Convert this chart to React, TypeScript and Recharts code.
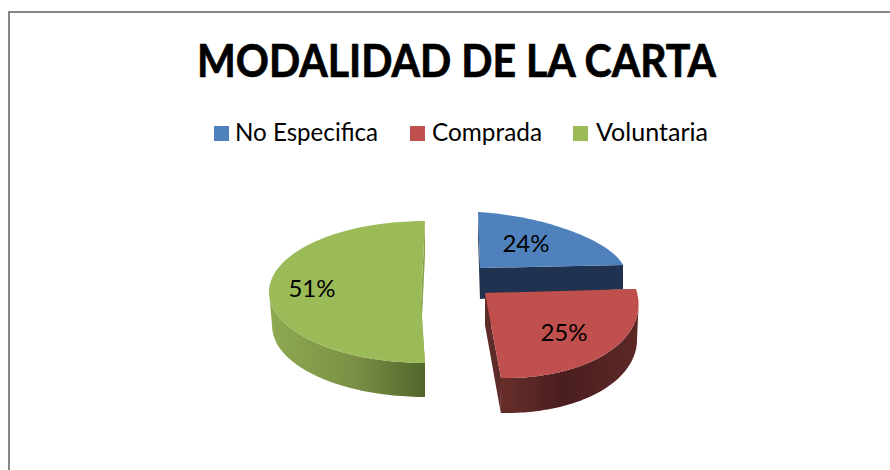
import { PieChart, Pie, Legend } from "recharts"

const names = ["No Especifica", "Comprada", "Voluntaria"]
const values = [24, 25, 51]
const topColors = ["#4f81bd", "#c0504d", "#9bbb59"]
const edgeColors = ["#1f3350", "#5e2b29", "#86a24b"]
const wallFills = ["#1f3350", "url(#redWall)", "url(#greenWall)"]

// how each exploded slice lands on the tilted plane
const sliceViews = [
  { apex: [480, 268], center: [480, 268], right: [143, -3], up: [-2, -56], flat: 0.1, depth: 31, rimDepth: 24, shrink: 1, label: [526, 242] },
  { apex: [485, 293], center: [485, 293], right: [151, -4], up: [-16, -85], flat: -0.04, depth: 32, rimDepth: 35, shrink: 0.99, label: [564, 331] },
  { apex: [421, 303], center: [425, 292], right: [156, 0], up: [0, -71], flat: 0, depth: 34, rimDepth: 34, shrink: 0.98, label: [312, 287] },
]

const tableData = names.map((name, i) => ({ name, value: values[i], fill: topColors[i] }))

type Pt = number[]
const toPath = (pts: Pt[]) =>
  pts.map((p, i) => `${i ? "L" : "M"}${p[0].toFixed(1)} ${p[1].toFixed(1)}`).join(" ") + " Z"

function SliceShape(props: any) {
  const index = names.indexOf(props.name ?? props.payload?.name)
  const view = sliceViews[index]
  // recharts angles run counter clockwise from 3 o'clock, the plane runs clockwise from 12
  const from = (Math.round((90 - props.startAngle) / 90) * 90 * Math.PI) / 180
  const to = (Math.round((90 - props.endAngle) / 90) * 90 * Math.PI) / 180
  const steps = 60
  const top: Pt[] = []
  const low: Pt[] = []
  for (let s = 0; s <= steps; s++) {
    const u = s / steps
    const phi = from + (to - from) * u
    const k = 1 - view.flat * Math.sin(Math.PI * u)
    const dx = (view.right[0] * Math.sin(phi) + view.up[0] * Math.cos(phi)) * k
    const dy = (view.right[1] * Math.sin(phi) + view.up[1] * Math.cos(phi)) * k
    top.push([view.center[0] + dx, view.center[1] + dy])
    low.push([view.center[0] + dx * view.shrink, view.center[1] + dy + view.rimDepth])
  }
  const a = view.apex
  const aLow = [a[0], a[1] + view.depth]
  const first = top[0]
  const last = top[steps]
  const surface = [a, ...top]
  // only the part of the rim that faces the viewer gets a wall (clockwise rim moves left there)
  const facing = top
    .map((_, i) => i)
    .filter((i) => (i < steps && top[i + 1][0] < top[i][0]) || (i > 0 && top[i][0] < top[i - 1][0]))
  const outerWall = [...facing.map((i) => top[i]), ...facing.map((i) => low[i]).reverse()]
  return (
    <g>
      <path d={toPath([a, first, low[0], aLow])} fill={edgeColors[index]} />
      <path d={toPath([a, last, low[steps], aLow])} fill={edgeColors[index]} />
      {outerWall.length > 2 && <path d={toPath(outerWall)} fill={wallFills[index]} />}
      <path d={toPath(surface)} fill={topColors[index]} />
    </g>
  )
}

function sliceLabel(props: any) {
  const view = sliceViews[props.index]
  return (
    <text
      x={view.label[0]}
      y={view.label[1]}
      textAnchor="middle"
      dominantBaseline="central"
      fontFamily="Lato"
      fontSize={24}
      fill="#000"
    >
      {`${values[props.index]}%`}
    </text>
  )
}

const legendLefts = [214, 410, 573]
const legendTextLefts = [235, 432, 596]
const legendWidths = [143, 110, 112]
function LegendRow(props: any) {
  const items = props.payload ?? []
  return (
    <div style={{ position: "relative", width: 890, height: 30 }}>
      {items.map((item: any, i: number) => (
        <div key={item.value}>
          <span
            style={{
              position: "absolute",
              left: legendLefts[i],
              top: 4,
              width: 15,
              height: 15,
              background: item.color,
            }}
          />
          <svg
            width={legendWidths[i] + 4}
            height={34}
            style={{ position: "absolute", left: legendTextLefts[i], top: -6 }}
          >
            <text
              x={0}
              y={25}
              fontFamily="Lato"
              fontSize={25}
              fill="#000"
              textLength={legendWidths[i]}
              lengthAdjust="spacingAndGlyphs"
            >
              {item.value}
            </text>
          </svg>
        </div>
      ))}
    </div>
  )
}

export default function App() {
  return (
    <div style={{ position: "absolute", left: 0, top: 0, width: 890, height: 470, overflow: "hidden", background: "#fff" }}>
      <div
        style={{
          position: "absolute",
          left: 8,
          top: 11,
          width: 890,
          height: 470,
          borderLeft: "2px solid #868686",
          borderTop: "2px solid #868686",
        }}
      />
      <div style={{ position: "absolute", left: 0, top: 0 }}>
        <PieChart width={890} height={470} margin={{ top: 0, right: 0, bottom: 0, left: 0 }}>
          <defs>
            <linearGradient id="greenWall" x1="0" y1="0" x2="1" y2="0">
              <stop offset="0%" stopColor="#8faa51" />
              <stop offset="55%" stopColor="#7a8f44" />
              <stop offset="100%" stopColor="#53672d" />
            </linearGradient>
            <linearGradient id="redWall" x1="0" y1="0" x2="1" y2="0">
              <stop offset="0%" stopColor="#662e2b" />
              <stop offset="45%" stopColor="#4a1e1e" />
              <stop offset="100%" stopColor="#5c2826" />
            </linearGradient>
          </defs>
          <text
            x={197}
            y={77}
            fontFamily="Lato"
            fontWeight={700}
            fontSize={45}
            fill="#000"
            stroke="#000"
            strokeWidth={0.7}
            textLength={519}
            lengthAdjust="spacingAndGlyphs"
          >
            MODALIDAD DE LA CARTA
          </text>
          <Legend
            content={LegendRow}
            itemSorter={null}
            wrapperStyle={{ position: "absolute", left: 0, top: 122, bottom: "auto", width: 890, height: 30 }}
          />
          <Pie
            data={tableData}
            dataKey="value"
            nameKey="name"
            cx={425}
            cy={292}
            outerRadius={100}
            startAngle={90}
            endAngle={-270}
            stroke="none"
            shape={SliceShape}
            label={sliceLabel}
            labelLine={false}
            isAnimationActive={false}
          />
        </PieChart>
      </div>
    </div>
  )
}
